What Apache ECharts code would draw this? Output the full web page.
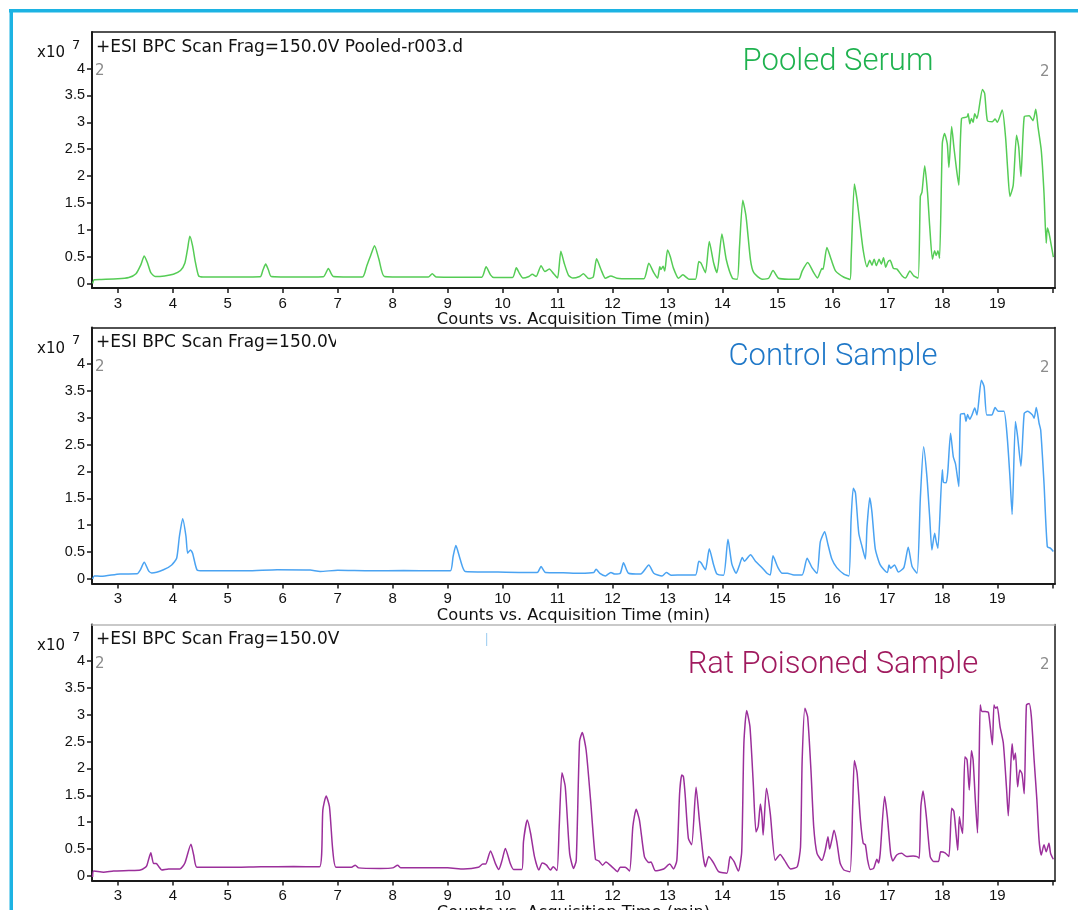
<!DOCTYPE html>
<html>
<head>
<meta charset="utf-8">
<script src="https://cdn.jsdelivr.net/npm/echarts@6/dist/echarts.min.js"></script>
<style>html,body{margin:0;padding:0;background:#fff;}#c{width:1078px;height:910px;}</style>
</head>
<body>
<div id="c"></div>
<script>
// ---- data (time in min, counts x10^7) ----
const xLabelValues = [3,4,5,6,7,8,9,10,11,12,13,14,15,16,17,18,19];
const xTickValues = [3,4,5,6,7,8,9,10,11,12,13,14,15,16,17,18,19,20];
const yTickValues = [0,0.5,1,1.5,2,2.5,3,3.5,4];

const pooledT = [2.54,2.57,2.7,3.0,3.2,3.33,3.42,3.48,3.54,3.6,3.68,3.85,4.01,4.14,4.22,4.27,4.31,4.36,4.41,4.47,4.55,5.0,5.59,5.64,5.69,5.74,5.79,6.3,6.74,6.83,6.92,7.45,7.53,7.60,7.67,7.75,7.85,8.3,8.65,8.72,8.79,9.2,9.62,9.70,9.78,9.84,10.18,10.25,10.31,10.37,10.48,10.54,10.61,10.70,10.77,10.85,10.93,11.0,11.06,11.12,11.2,11.28,11.4,11.47,11.57,11.65,11.71,11.79,11.87,11.97,12.08,12.3,12.57,12.66,12.75,12.82,12.86,12.88,12.92,12.95,13.0,13.05,13.11,13.2,13.28,13.39,13.51,13.57,13.61,13.69,13.76,13.84,13.9,13.99,14.07,14.18,14.27,14.31,14.37,14.43,14.51,14.57,14.72,14.84,14.92,15.02,15.2,15.39,15.45,15.55,15.66,15.73,15.81,15.83,15.90,15.98,16.06,16.21,16.32,16.34,16.40,16.45,16.50,16.56,16.63,16.68,16.72,16.76,16.80,16.85,16.89,16.93,16.97,17.01,17.05,17.11,17.17,17.27,17.33,17.41,17.48,17.56,17.60,17.63,17.68,17.73,17.77,17.82,17.86,17.89,17.92,17.95,18.0,18.04,18.09,18.12,18.17,18.21,18.26,18.30,18.35,18.45,18.47,18.50,18.53,18.56,18.59,18.63,18.73,18.77,18.82,18.91,18.96,19.0,19.09,19.15,19.19,19.23,19.29,19.35,19.39,19.43,19.49,19.58,19.65,19.70,19.74,19.80,19.85,19.89,19.91,19.94,19.97,20.02];
const pooledV = [0.0,0.07,0.075,0.085,0.11,0.18,0.35,0.51,0.38,0.2,0.13,0.14,0.17,0.24,0.38,0.65,0.88,0.70,0.4,0.14,0.12,0.12,0.125,0.25,0.36,0.25,0.13,0.12,0.125,0.28,0.13,0.12,0.33,0.52,0.70,0.45,0.13,0.12,0.12,0.18,0.12,0.115,0.115,0.31,0.16,0.11,0.11,0.29,0.18,0.1,0.13,0.17,0.13,0.33,0.22,0.27,0.18,0.1,0.60,0.38,0.15,0.1,0.13,0.18,0.09,0.12,0.46,0.26,0.096,0.14,0.096,0.085,0.085,0.375,0.2,0.1,0.31,0.26,0.32,0.23,0.62,0.5,0.28,0.096,0.16,0.08,0.08,0.41,0.38,0.2,0.78,0.38,0.2,0.92,0.44,0.1,0.08,0.68,1.55,1.24,0.44,0.2,0.08,0.096,0.24,0.096,0.08,0.08,0.23,0.39,0.2,0.1,0.28,0.26,0.67,0.44,0.23,0.115,0.075,0.44,1.85,1.55,1.12,0.62,0.31,0.43,0.34,0.45,0.33,0.45,0.36,0.48,0.3,0.4,0.43,0.28,0.27,0.14,0.1,0.23,0.14,0.1,1.62,1.7,2.19,1.7,1.07,0.45,0.61,0.52,0.61,0.47,2.61,2.79,2.6,2.16,2.92,2.54,2.11,1.83,3.07,3.1,3.16,2.97,3.07,3.0,3.16,3.07,3.61,3.54,3.03,3.01,3.06,3.0,3.23,2.73,2.11,1.62,1.83,2.76,2.54,1.99,3.1,3.12,3.03,3.24,2.92,2.48,1.68,0.75,1.03,0.94,0.78,0.49];

const controlT = [2.54,2.57,2.7,3.04,3.35,3.41,3.48,3.56,3.62,3.83,3.98,4.07,4.12,4.18,4.24,4.27,4.32,4.36,4.44,4.55,5.35,5.9,6.5,6.68,7.0,7.6,8.2,8.8,9.05,9.10,9.15,9.23,9.32,9.8,10.3,10.63,10.70,10.78,11.1,11.41,11.66,11.70,11.77,11.87,11.97,12.04,12.14,12.20,12.29,12.51,12.66,12.75,12.90,12.98,13.07,13.3,13.51,13.57,13.61,13.69,13.76,13.84,13.90,14.02,14.10,14.17,14.25,14.31,14.36,14.40,14.51,14.60,14.72,14.81,14.87,14.92,15.01,15.09,15.18,15.30,15.45,15.54,15.63,15.72,15.78,15.86,15.92,15.99,16.08,16.21,16.30,16.34,16.38,16.42,16.48,16.54,16.60,16.63,16.68,16.72,16.78,16.87,17.0,17.03,17.06,17.13,17.20,17.30,17.38,17.45,17.54,17.60,17.66,17.72,17.77,17.81,17.86,17.89,17.92,18.0,18.02,18.07,18.10,18.15,18.20,18.24,18.30,18.33,18.40,18.43,18.46,18.50,18.54,18.59,18.63,18.71,18.76,18.81,18.90,18.96,19.02,19.12,19.18,19.23,19.27,19.33,19.37,19.43,19.49,19.55,19.64,19.67,19.71,19.76,19.79,19.85,19.91,19.97,20.02];
const controlV = [0.0,0.056,0.05,0.093,0.095,0.17,0.31,0.15,0.11,0.17,0.26,0.385,0.79,1.12,0.79,0.48,0.54,0.48,0.17,0.15,0.15,0.17,0.165,0.14,0.16,0.15,0.155,0.15,0.15,0.42,0.62,0.36,0.14,0.13,0.12,0.12,0.23,0.12,0.115,0.105,0.12,0.18,0.105,0.056,0.12,0.09,0.105,0.30,0.105,0.09,0.26,0.105,0.056,0.12,0.07,0.075,0.075,0.33,0.3,0.17,0.56,0.26,0.09,0.07,0.74,0.28,0.105,0.26,0.40,0.33,0.45,0.33,0.21,0.105,0.075,0.43,0.21,0.105,0.105,0.075,0.075,0.385,0.21,0.105,0.69,0.88,0.64,0.37,0.21,0.09,0.056,1.10,1.69,1.6,0.85,0.60,0.37,0.97,1.51,1.24,0.56,0.26,0.12,0.26,0.2,0.26,0.13,0.21,0.59,0.23,0.105,1.50,2.46,1.9,1.15,0.54,0.85,0.69,0.57,2.03,1.80,1.79,2.0,2.71,2.27,2.14,1.72,3.06,3.08,2.93,3.06,2.97,3.05,3.18,3.05,3.70,3.58,3.05,3.05,3.19,3.12,3.12,2.65,1.9,1.2,2.93,2.65,2.10,3.08,3.12,3.05,2.99,3.19,2.9,2.77,1.78,0.60,0.57,0.51];

const ratT = [2.54,2.56,2.74,2.92,3.2,3.41,3.50,3.53,3.60,3.65,3.70,3.74,3.80,3.92,4.13,4.22,4.33,4.38,4.44,5.0,5.6,6.2,6.67,6.73,6.79,6.85,6.91,6.97,7.25,7.32,7.38,7.77,8.0,8.09,8.15,9.0,9.29,9.56,9.64,9.69,9.78,9.87,9.93,9.99,10.05,10.14,10.20,10.35,10.38,10.45,10.51,10.58,10.66,10.72,10.80,10.87,10.92,10.99,11.03,11.08,11.14,11.22,11.29,11.34,11.40,11.45,11.52,11.60,11.69,11.75,11.82,11.88,11.99,12.09,12.14,12.23,12.31,12.37,12.43,12.49,12.58,12.66,12.70,12.78,12.93,13.04,13.11,13.17,13.22,13.26,13.29,13.32,13.38,13.44,13.52,13.58,13.65,13.69,13.75,13.84,13.93,14.08,14.14,14.21,14.29,14.35,14.39,14.44,14.50,14.56,14.61,14.65,14.69,14.72,14.74,14.80,14.87,14.96,15.05,15.13,15.24,15.36,15.42,15.45,15.50,15.55,15.61,15.66,15.72,15.81,15.87,15.92,15.95,15.99,16.03,16.08,16.14,16.21,16.32,16.37,16.40,16.45,16.51,16.56,16.60,16.64,16.69,16.75,16.81,16.84,16.87,16.95,17.0,17.06,17.10,17.17,17.26,17.35,17.47,17.54,17.58,17.61,17.65,17.71,17.78,17.84,17.93,17.97,18.05,18.12,18.17,18.21,18.25,18.28,18.31,18.34,18.37,18.41,18.45,18.49,18.53,18.56,18.60,18.64,18.67,18.69,18.72,18.78,18.84,18.91,18.94,18.97,19.0,19.05,19.11,19.17,19.20,19.25,19.27,19.30,19.33,19.37,19.41,19.45,19.49,19.53,19.58,19.62,19.67,19.72,19.76,19.80,19.85,19.89,19.94,19.97,20.02];
const ratV = [-0.02,0.09,0.07,0.09,0.1,0.11,0.16,0.2,0.43,0.23,0.23,0.18,0.11,0.13,0.13,0.24,0.59,0.39,0.16,0.16,0.17,0.175,0.17,1.23,1.49,1.29,0.48,0.16,0.16,0.2,0.15,0.14,0.15,0.2,0.15,0.15,0.13,0.16,0.22,0.22,0.465,0.23,0.12,0.29,0.51,0.23,0.12,0.12,0.64,1.04,0.79,0.36,0.11,0.24,0.2,0.11,0.17,0.1,0.92,1.92,1.66,0.42,0.14,0.29,2.5,2.67,2.34,1.42,0.31,0.28,0.2,0.26,0.17,0.08,0.16,0.16,0.09,0.92,1.24,1.04,0.36,0.25,0.26,0.095,0.13,0.22,0.13,0.29,1.53,1.88,1.85,1.53,0.70,0.58,1.65,1.04,0.36,0.17,0.36,0.24,0.08,0.05,0.36,0.27,0.09,0.45,2.47,3.08,2.78,1.73,0.82,0.92,1.34,1.10,0.76,1.63,1.16,0.29,0.40,0.29,0.13,0.17,0.54,2.15,3.12,2.96,1.97,0.92,0.42,0.29,0.48,0.73,0.5,0.67,0.85,0.64,0.24,0.11,0.08,1.35,2.15,1.91,1.04,0.61,0.58,0.30,0.12,0.14,0.31,0.24,0.42,1.48,1.10,0.42,0.28,0.39,0.42,0.36,0.37,0.36,0.33,1.29,1.58,1.10,0.36,0.27,0.27,0.45,0.43,0.36,1.26,1.2,0.79,0.48,1.10,0.92,0.79,2.22,2.16,1.6,2.33,2.16,1.42,0.80,2.16,3.18,3.06,3.06,3.04,2.44,3.18,3.12,3.15,2.78,2.47,1.6,1.12,2.16,2.46,2.16,2.29,1.66,1.97,1.9,1.53,3.18,3.21,2.96,2.16,1.42,0.67,0.39,0.58,0.45,0.61,0.42,0.31];

const panelNames = ['Pooled Serum','Control Sample','Rat Poisoned Sample'];
const scanTitles = ['+ESI BPC Scan Frag=150.0V Pooled-r003.d','+ESI BPC Scan Frag=150.0V','+ESI BPC Scan Frag=150.0V'];
const axisName = 'Counts vs. Acquisition Time (min)';

// ---- layout / styles ----
const lineColors = ['#55cc55','#4aa3f2','#9b2f9b'];
const nameColors = ['#1fb24f','#1f78c8','#a01a5e'];
const tops = [32, 327.5, 624.5];
const titleY = [62, 357, 665];
const titleX = [838, 833, 833];
const topBorderColors = ['#1a1a1a','#1a1a1a','#b8b8b8'];
const GL = 92, GW = 963, GH = 256;
const XMIN = 2.53, XMAX = 20.05, YMIN = -0.085, YMAX = 4.68;
const dark = '#1a1a1a';

const chart = echarts.init(document.getElementById('c'), null, {renderer:'canvas'});
const grids = [], xAxes = [], yAxes = [], series = [], graphics = [];
const seriesData = [[pooledT,pooledV],[controlT,controlV],[ratT,ratV]];

for (let i = 0; i < 3; i++) {
  grids.push({left: GL, top: tops[i], width: GW, height: GH, show:false, containLabel:false, outerBoundsMode:'none'});
  xAxes.push({
    type:'value', gridIndex:i, min:XMIN, max:XMAX, position:'bottom',
    axisLine:{show:true, onZero:false, lineStyle:{color:dark, width:2}},
    axisTick:{show:true, inside:false, length:5, customValues:xTickValues, lineStyle:{color:dark, width:1.5}},
    axisLabel:{show:true, customValues:xLabelValues, color:'#111', fontSize:15, fontFamily:'Liberation Sans', margin:8, formatter:(v)=>String(v)},
    splitLine:{show:false},
    name: axisName, nameLocation:'middle', nameGap:23,
    nameTextStyle:{color:'#111', fontSize:16.3, fontFamily:'DejaVu Sans'}
  });
  xAxes.push({
    type:'value', gridIndex:i, min:XMIN, max:XMAX, position:'top',
    axisLine:{show:true, onZero:false, lineStyle:{color:topBorderColors[i], width:1.5}},
    axisTick:{show:false}, axisLabel:{show:false}, splitLine:{show:false}
  });
  yAxes.push({
    type:'value', gridIndex:i, min:YMIN, max:YMAX, position:'left',
    axisLine:{show:true, onZero:false, lineStyle:{color:dark, width:2}},
    axisTick:{show:true, inside:false, length:5, customValues:yTickValues, lineStyle:{color:dark, width:1.5}},
    axisLabel:{show:true, customValues:yTickValues, color:'#111', fontSize:14.5, fontFamily:'Liberation Sans', margin:7, formatter:(v)=>String(v)},
    splitLine:{show:false}
  });
  yAxes.push({
    type:'value', gridIndex:i, min:YMIN, max:YMAX, position:'right',
    axisLine:{show:true, onZero:false, lineStyle:{color:dark, width:1.5}},
    axisTick:{show:false}, axisLabel:{show:false}, splitLine:{show:false}
  });
  const [T, V] = seriesData[i];
  series.push({
    type:'line', xAxisIndex:2*i, yAxisIndex:2*i, name:panelNames[i],
    data: T.map((t,k)=>[t, V[k]]),
    showSymbol:false, smooth:0.2, clip:true,
    lineStyle:{color:lineColors[i], width:1.5},
    emphasis:{disabled:true}, animation:false
  });
  const top = tops[i];
  graphics.push(
    {type:'text', left:96, top:top+7, style:{text:scanTitles[i], font:'17px "DejaVu Sans"', fill:'#111'}},
    {type:'text', left:37, top:top+14, style:{text:'x10', font:'15px "DejaVu Sans"', fill:'#111'}},
    {type:'text', left:72, top:top+7, style:{text:'7', font:'13px "DejaVu Sans"', fill:'#111'}},
    {type:'text', left:95, top:top+32, style:{text:'2', font:'15px "DejaVu Sans"', fill:'#8c8c8c'}},
    {type:'text', left:1040, top:top+33, style:{text:'2', font:'15px "DejaVu Sans"', fill:'#8c8c8c'}},
    {type:'text', x:titleX[i], y:titleY[i], style:{text:panelNames[i], font:'300 31px Roboto', fill:nameColors[i], textAlign:'center', textVerticalAlign:'middle'}}
  );
}
// clipped "V" of second scan title
graphics.push({type:'rect', shape:{x:336, y:tops[1]+5, width:12, height:18}, style:{fill:'#fff'}, z:200});
// small light-blue mark in third panel
graphics.push({type:'rect', shape:{x:486, y:633, width:1.2, height:13}, style:{fill:'#a9d3f2'}});
// outer cyan frame
graphics.push({type:'rect', shape:{x:9, y:9, width:1069, height:3.5}, style:{fill:'#1cb3e3'}});
graphics.push({type:'rect', shape:{x:9.5, y:9, width:3.5, height:901}, style:{fill:'#1cb3e3'}});

chart.setOption({
  animation:false,
  backgroundColor:'#ffffff',
  grid: grids, xAxis: xAxes, yAxis: yAxes, series: series,
  graphic: graphics
});
</script>
</body>
</html>
